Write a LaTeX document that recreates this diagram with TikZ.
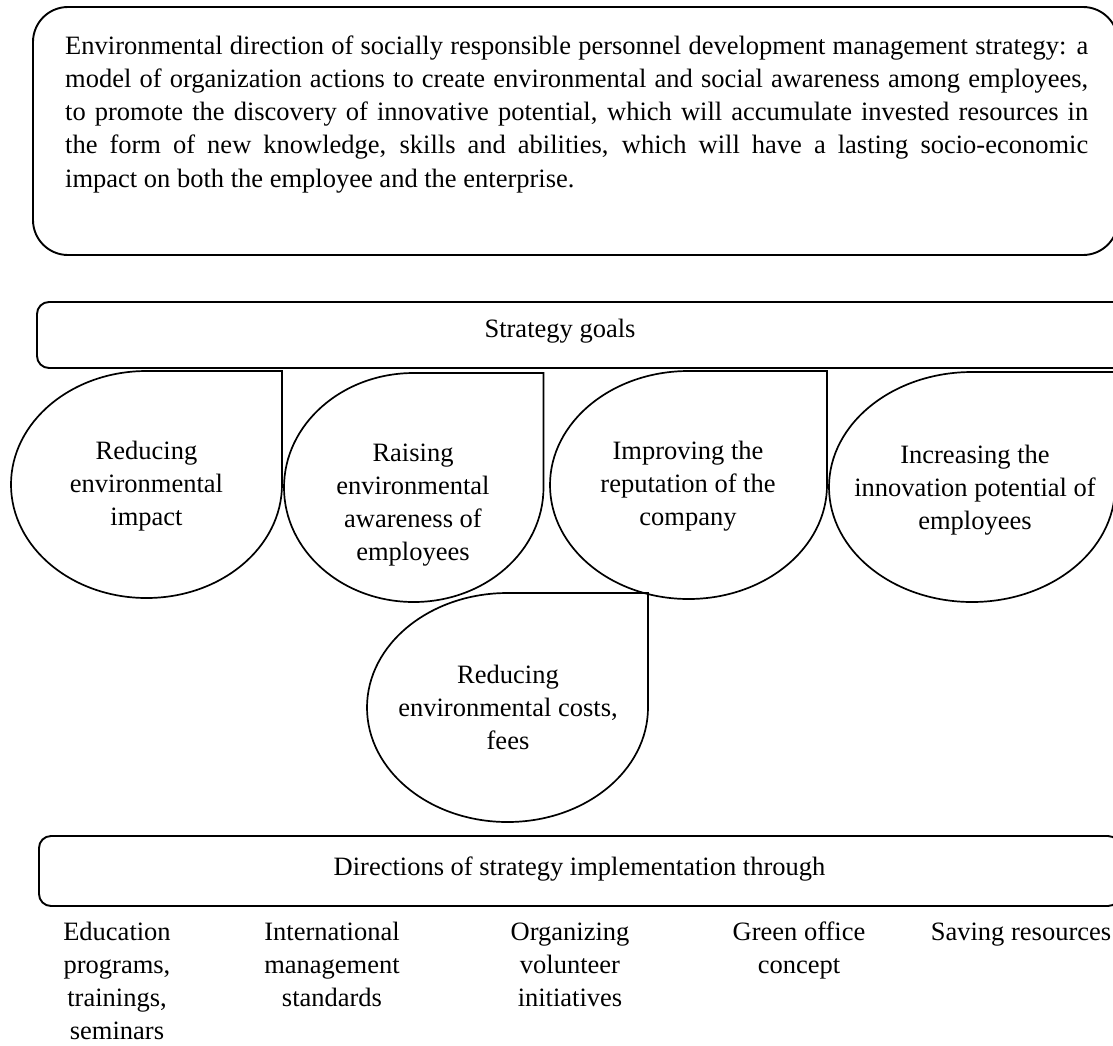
\documentclass[tikz,border=0pt]{standalone}
\usepackage{fontspec}
\setmainfont{Liberation Serif}
% centred lines, baseline on the first line, no struts
\newcommand\goaltext[1]{\vtop{\let\\\cr\halign{\hfil##\hfil\cr#1\crcr}}}
% teardrop: square top-right corner, elliptic elsewhere; args: cx cy rx ry
\newcommand\tdrop[4]{%
  \draw[goal] (#1,#2-#4) -- (#1+#3,#2-#4) -- (#1+#3,#2)
    .. controls (#1+#3,#2+0.5523*#4) and (#1+0.5523*#3,#2+#4) .. (#1,#2+#4)
    .. controls (#1-0.5523*#3,#2+#4) and (#1-#3,#2+0.5523*#4) .. (#1-#3,#2)
    .. controls (#1-#3,#2-0.5523*#4) and (#1-0.5523*#3,#2-#4) .. cycle;}
\tikzset{
  frame/.style={draw=black, line width=1.9pt},
  goal/.style={draw=black, line width=1.7pt},
  txt/.style={inner sep=0pt, font=\fontsize{26.5}{33.3}\selectfont},
}
\begin{document}
\begin{tikzpicture}[x=1pt,y=-1pt]
\useasboundingbox (0,0) rectangle (1113,1045);
\clip (0,0) rectangle (1113,1045);

% definition box
\draw[frame, rounded corners=35pt] (33,7) rectangle (1118,255);
\node[txt, anchor=base west] (intro) at (65,54) {\parbox[t]{1023pt}{%
\hbox to 1023pt{Environmental direction of socially responsible personnel development management strategy: a}
\hbox to 1023pt{model of organization actions to create environmental and social awareness among employees,}
\hbox to 1023pt{to promote the discovery of innovative potential, which will accumulate invested resources in}
\hbox to 1023pt{the form of new knowledge, skills and abilities, which will have a lasting socio-economic}
\hbox{impact on both the employee and the enterprise.}}};

% strategy goals
\draw[frame, rounded corners=12pt] (37,302) rectangle (1125,368);
\node[txt, anchor=base] (goals) at (560,337) {Strategy goals};

\tdrop{146.5}{484.5}{135.5}{113.5}
\tdrop{413.75}{487.5}{129.75}{114.5}
\tdrop{688.5}{485}{138.5}{114}
\tdrop{972}{487}{143}{115}
\tdrop{507.5}{707.5}{140.5}{114.5}

\node[txt, anchor=base] (g1) at (146.5,459) {\goaltext{Reducing\\ environmental\\ impact}};
\node[txt, anchor=base] (g2) at (413,461) {\goaltext{Raising\\ environmental\\ awareness of\\ employees}};
\node[txt, anchor=base] (g3) at (688,459) {\goaltext{Improving the\\ reputation of the\\ company}};
\node[txt, anchor=base] (g4) at (975,463) {\goaltext{Increasing the\\ innovation potential of\\ employees}};
\node[txt, anchor=base] (g5) at (508,683) {\goaltext{Reducing\\ environmental costs,\\ fees}};

% implementation directions
\draw[frame, rounded corners=12pt] (39,836) rectangle (1120,906);
\node[txt, anchor=base] (directions) at (579.5,875) {Directions of strategy implementation through};

\node[txt, anchor=base] (d1) at (117,940) {\goaltext{Education\\ programs,\\ trainings,\\ seminars}};
\node[txt, anchor=base] (d2) at (332,940) {\goaltext{International\\ management\\ standards}};
\node[txt, anchor=base] (d3) at (570,940) {\goaltext{Organizing\\ volunteer\\ initiatives}};
\node[txt, anchor=base] (d4) at (799,940) {\goaltext{Green office\\ concept}};
\node[txt, anchor=base] (d5) at (1021,940) {\goaltext{Saving resources}};
\end{tikzpicture}
\end{document}
